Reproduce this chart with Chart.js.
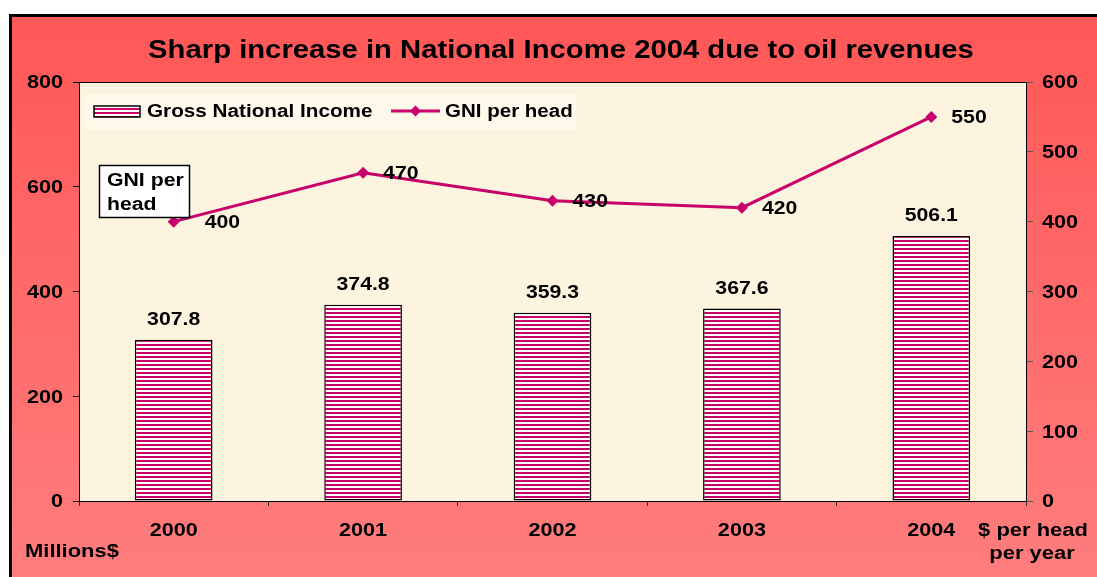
<!DOCTYPE html>
<html>
<head>
<meta charset="utf-8">
<script src="https://cdn.jsdelivr.net/npm/chart.js@4.4.1/dist/chart.umd.min.js"></script>
<style>
  body { margin: 0; background: #fff; }
  #wrap { position: absolute; left: 0; top: 0; width: 1097px; height: 577px; }
</style>
</head>
<body>
<div id="wrap"><canvas id="chart" width="1097" height="577"></canvas></div>
<script>
// chart values
const years = ["2000", "2001", "2002", "2003", "2004"];
const gniMillions = [307.8, 374.8, 359.3, 367.6, 506.1];
const gniPerHead = [400, 470, 430, 420, 550];
const titleText = "Sharp increase in National Income 2004 due to oil revenues";
const leftAxisNote = "Millions$";
const rightAxisNote = ["$ per head", "per year"];
const boxNote = ["GNI per", "head"];

const MAGENTA = "#c8006a";
const FONT = "'Liberation Sans', Arial, sans-serif";

// striped fill for the bars
const stripe = document.createElement("canvas");
stripe.width = 4;
stripe.height = 4;
const sctx = stripe.getContext("2d");
sctx.fillStyle = "#ffffff";
sctx.fillRect(0, 0, 4, 4);
sctx.fillStyle = MAGENTA;
sctx.fillRect(0, 0, 4, 2);
const ctx = document.getElementById("chart").getContext("2d");
const stripePattern = ctx.createPattern(stripe, "repeat");

// bold text stretched sideways, like the old office chart font
function wide(c, text, x, y, size, align, stretch) {
  c.save();
  c.font = "bold " + size + "px " + FONT;
  c.textBaseline = "middle";
  c.textAlign = "left";
  const w = c.measureText(text).width * stretch;
  const left = align === "center" ? x - w / 2 : align === "right" ? x - w : x;
  c.translate(left, y + 1.5);
  c.scale(stretch, 1);
  c.fillStyle = "#000";
  c.fillText(text, 0, 0);
  c.restore();
}

const backdrop = {
  id: "backdrop",
  beforeDraw(chart) {
    const c = chart.ctx;
    const a = chart.chartArea;
    c.save();
    c.fillStyle = "#ffffff";
    c.fillRect(0, 0, chart.width, chart.height);
    const g = c.createLinearGradient(0, 15, 0, chart.height);
    g.addColorStop(0, "#ff5757");
    g.addColorStop(1, "#ff7d7d");
    c.fillStyle = g;
    c.fillRect(10, 15, chart.width - 10, chart.height - 15);
    c.strokeStyle = "#000";
    c.lineWidth = 3;
    c.beginPath();
    c.moveTo(10.5, chart.height);
    c.lineTo(10.5, 15.5);
    c.lineTo(chart.width, 15.5);
    c.stroke();
    c.fillStyle = "#fcf4df";
    c.fillRect(a.left, a.top, a.right - a.left, a.bottom - a.top);
    c.restore();
  },
  afterDraw(chart) {
    const c = chart.ctx;
    const a = chart.chartArea;
    c.save();
    // frame around plot
    c.strokeStyle = "#000";
    c.lineWidth = 1;
    c.strokeRect(a.left + 0.5, a.top + 0.5, a.right - a.left, a.bottom - a.top);

    // title
    wide(c, titleText, 561, 50, 25, "center", 1.17);

    // tick labels, placed from the scales
    const sx = chart.scales.x, sy = chart.scales.y, sy1 = chart.scales.y1;
    sy.ticks.forEach((t) => {
      wide(c, String(t.value), 63, sy.getPixelForValue(t.value), 18, "right", 1.2);
    });
    sy1.ticks.forEach((t) => {
      wide(c, String(t.value), 1042, sy1.getPixelForValue(t.value), 18, "left", 1.2);
    });
    years.forEach((y, i) => {
      wide(c, y, sx.getPixelForValue(i), 530, 18, "center", 1.2);
    });

    // axis notes
    wide(c, leftAxisNote, 25, 551, 18, "left", 1.22);
    wide(c, rightAxisNote[0], 1033, 530, 18, "center", 1.22);
    wide(c, rightAxisNote[1], 1032, 553, 18, "center", 1.22);

    // bar value labels
    chart.getDatasetMeta(0).data.forEach((bar, i) => {
      wide(c, gniMillions[i].toFixed(1), bar.x, bar.y - 21, 18, "center", 1.18);
    });
    // line value labels
    chart.getDatasetMeta(1).data.forEach((pt, i) => {
      wide(c, String(gniPerHead[i]), pt.x + (i === 0 ? 31 : 20), pt.y, 18, "left", 1.18);
    });

    // legend
    c.fillStyle = "rgba(255,250,238,0.8)";
    c.fillRect(84, 94, 492, 36);
    c.fillStyle = stripePattern;
    c.fillRect(94, 106, 46, 11);
    c.strokeStyle = "#000";
    c.lineWidth = 1.5;
    c.strokeRect(94, 106, 46, 11);
    wide(c, chart.data.datasets[0].label, 147, 111, 18, "left", 1.15);
    c.strokeStyle = MAGENTA;
    c.lineWidth = 3;
    c.beginPath();
    c.moveTo(391, 111);
    c.lineTo(440, 111);
    c.stroke();
    c.fillStyle = MAGENTA;
    c.beginPath();
    c.moveTo(415.5, 105.5);
    c.lineTo(421, 111);
    c.lineTo(415.5, 116.5);
    c.lineTo(410, 111);
    c.closePath();
    c.fill();
    wide(c, chart.data.datasets[1].label, 445, 111, 18, "left", 1.14);

    // "GNI per head" box
    c.fillStyle = "#fff";
    c.fillRect(99, 165, 90, 52);
    c.strokeStyle = "#000";
    c.lineWidth = 1.5;
    c.strokeRect(99.5, 165.5, 90, 52);
    wide(c, boxNote[0], 107, 180, 18, "left", 1.18);
    wide(c, boxNote[1], 107, 204, 18, "left", 1.18);
    c.restore();
  }
};

const tickFont = { family: FONT, size: 18, weight: "bold" };
const hidden = "rgba(0,0,0,0)";

new Chart(ctx, {
  type: "bar",
  data: {
    labels: years,
    datasets: [
      {
        type: "bar",
        label: "Gross National Income",
        data: gniMillions,
        yAxisID: "y",
        backgroundColor: stripePattern,
        borderColor: "#000",
        borderWidth: 1.5,
        borderSkipped: false,
        barPercentage: 0.41,
        categoryPercentage: 1,
        order: 2,
      },
      {
        type: "line",
        label: "GNI per head",
        data: gniPerHead,
        yAxisID: "y1",
        borderColor: MAGENTA,
        backgroundColor: MAGENTA,
        borderWidth: 3,
        pointStyle: "rectRot",
        pointRadius: 6,
        pointBorderWidth: 0,
        tension: 0,
        fill: false,
        order: 1,
      },
    ],
  },
  options: {
    responsive: false,
    animation: false,
    layout: { padding: { top: 82, left: 0, right: 0, bottom: 0 } },
    plugins: {
      legend: { display: false },
      title: { display: false },
      tooltip: { enabled: false },
    },
    scales: {
      x: {
        offset: true,
        afterFit: (s) => { s.height = 76; },
        grid: { offset: true, drawOnChartArea: false, tickLength: 5, color: "#333" },
        border: { color: "#000", width: 1 },
        ticks: { color: hidden, font: tickFont, padding: 14 },
      },
      y: {
        position: "left",
        min: 0,
        max: 800,
        afterFit: (s) => { s.width = 79; },
        grid: { drawOnChartArea: false, tickLength: 6, color: "#000" },
        border: { color: "#000", width: 1 },
        ticks: { stepSize: 200, color: hidden, font: tickFont, padding: 7 },
      },
      y1: {
        position: "right",
        min: 0,
        max: 600,
        afterFit: (s) => { s.width = 71; },
        grid: { drawOnChartArea: false, tickLength: 7, color: "#555" },
        border: { color: "#000", width: 1 },
        ticks: { stepSize: 100, color: hidden, font: tickFont, padding: 8 },
      },
    },
  },
  plugins: [backdrop],
});
</script>
</body>
</html>
